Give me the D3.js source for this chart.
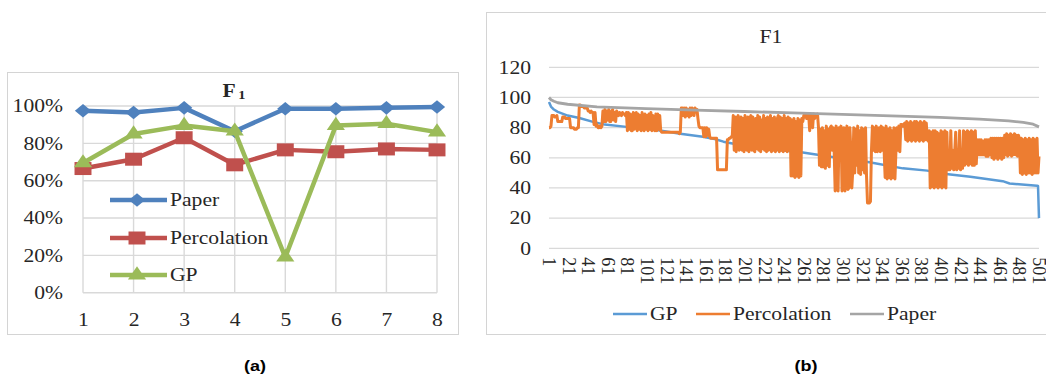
<!DOCTYPE html>
<html>
<head>
<meta charset="utf-8">
<script src="https://cdn.jsdelivr.net/npm/d3@7"></script>
<style>
  body { margin: 0; background: #fff; }
  svg { display: block; }
</style>
</head>
<body>
<svg id="chart" width="1046" height="375"></svg>
<script>
// ---------- Panel (a): F1 for eight runs ----------
const runs = [1, 2, 3, 4, 5, 6, 7, 8];
const paperA = [97.5, 96.5, 99, 86.5, 98.5, 98.5, 99, 99.5];
const percolationA = [66.5, 71.5, 83, 68.5, 76.5, 75.5, 77, 76.5];
const gpA = [69.5, 85, 89.5, 86.5, 19, 89.5, 90.5, 86];
const pctTicks = [0, 20, 40, 60, 80, 100];

// ---------- Panel (b): F1 over 501 instances ----------
const valueTicks = [0, 20, 40, 60, 80, 100, 120];
const indexTicks = [1, 21, 41, 61, 81, 101, 121, 141, 161, 181, 201, 221, 241, 261, 281,
                    301, 321, 341, 361, 381, 401, 421, 441, 461, 481, 501];

// GP and Paper curves: instance number and F1 value
const gpIdx = [1, 3, 6, 10, 20, 32, 45, 58, 80, 111, 135, 158, 170, 179, 196, 230, 260, 295, 328, 362, 387, 397, 431, 464, 471, 499, 500, 501];
const gpVal = [97, 94, 92, 90.5, 88, 86.4, 84, 82, 80.5, 78.5, 76, 74, 72.5, 70.7, 68.5, 65.5, 63.5, 60, 57, 53, 51.5, 50, 47.5, 44.5, 43, 41.5, 41.3, 20];

const paperIdx = [1, 3, 6, 10, 20, 50, 100, 150, 200, 250, 300, 350, 400, 440, 470, 485, 495, 501];
const paperVal = [100, 98.5, 97.5, 96.5, 95.5, 93.8, 92.6, 91.6, 90.7, 89.8, 88.8, 87.8, 86.8, 85.7, 84.5, 83.5, 82.3, 80.5];

// Percolation: one value per instance, 1..501
const percolationB = [
  80,80,81,88,88,88,87,87,88,84,84,84,84,84,87,87,87,86,86,86,
  86,86,80,80,80,80,79,79,79,80,80,95,95,94,94,94,93,93,93,93,
  91,91,90,91,90,90,82,90,81,82,80,80,81,80,81,91,84,92,84,91,
  85,92,84,84,91,92,85,90,84,91,89,88,90,89,88,90,89,89,88,90,
  78,90,79,89,78,78,90,79,89,90,78,89,79,88,78,90,79,78,89,79,
  88,78,89,79,90,78,88,79,78,89,78,89,79,88,78,77,77,77,77,77,
  77,77,77,77,77,77,77,77,77,77,77,77,77,76,77,93,93,88,93,87,
  93,88,92,87,93,88,93,92,88,93,92,92,86,81,80,80,80,80,74,80,
  74,80,75,79,74,73,73,73,73,73,73,73,52,52,52,52,52,52,52,52,
  52,52,72,72,73,73,74,74,88,65,87,64,86,88,65,66,87,65,86,64,
  88,66,65,87,64,86,88,65,87,65,64,86,66,88,65,87,64,85,66,88,
  65,86,64,87,65,66,88,64,86,65,87,64,65,86,88,64,87,65,86,64,
  88,65,86,64,87,65,86,48,85,48,86,47,84,48,86,47,85,48,86,84,
  88,87,89,86,88,88,78,89,87,80,89,86,88,87,89,80,55,79,54,80,
  54,78,53,81,55,79,54,80,81,65,80,64,38,81,65,38,80,64,81,38,
  65,80,38,64,81,39,40,80,65,40,52,80,50,79,55,81,50,78,49,80,
  52,79,50,80,48,30,30,30,31,64,81,65,80,64,81,64,65,80,64,81,
  65,80,64,47,81,46,79,47,80,46,78,47,80,46,64,80,65,81,64,82,
  82,81,82,83,72,84,71,83,72,84,71,83,72,84,71,84,72,83,71,84,
  72,83,71,84,72,83,72,71,78,40,77,41,78,40,78,41,77,40,76,41,
  78,40,77,41,78,40,77,52,64,52,78,53,65,52,64,77,52,65,53,78,
  52,64,53,78,55,77,56,78,55,77,56,78,55,77,55,78,56,72,62,72,
  62,72,62,71,62,72,61,72,61,72,62,73,60,73,59,73,60,73,59,73,
  60,73,59,73,60,75,62,76,61,75,62,76,61,75,62,76,62,75,61,75,
  73,50,73,49,72,50,73,49,72,50,73,50,72,49,73,50,72,50,73,50,
  61
];

// ---------- helpers ----------
const SERIF = "'Liberation Serif', 'Times New Roman', serif";
const SANS = "'Liberation Sans', Arial, sans-serif";
const SX = 1.2;            // text is drawn slightly wide
const svg = d3.select("#chart");

function label(g, x, y, txt, opts = {}) {
  return g.append("text")
    .attr("transform", `translate(${x},${y}) scale(${SX},1)`)
    .attr("text-anchor", opts.anchor || "start")
    .attr("dy", opts.dy || null)
    .attr("font-size", opts.size || 18)
    .attr("font-weight", opts.weight || "normal")
    .attr("font-family", opts.family || SERIF)
    .attr("fill", opts.fill || "#262626")
    .text(txt);
}
function styleAxisText(sel) {
  sel.attr("font-family", SERIF).attr("font-size", 18).attr("fill", "#262626");
}
function widenAxisText(sel) {
  sel.each(function () {
    const t = d3.select(this);
    const x = +t.attr("x") || 0;
    t.attr("x", 0).attr("transform", `translate(${x},0) scale(${SX},1)`);
  });
}

// ================= Panel (a) =================
const gA = svg.append("g");
gA.append("rect").attr("x", 7.5).attr("y", 72.5).attr("width", 451).attr("height", 262)
  .attr("fill", "#fff").attr("stroke", "#d4d4d4");

const xA = d3.scalePoint().domain(runs).range([83, 437]);
const yA = d3.scaleLinear().domain([0, 100]).range([292.7, 106]);

// grid
gA.append("g").selectAll("line").data(pctTicks).join("line")
  .attr("x1", xA(1)).attr("x2", xA(8)).attr("y1", d => yA(d)).attr("y2", d => yA(d))
  .attr("stroke", "#d9d9d9").attr("stroke-width", 1.4);
gA.append("g").selectAll("line").data(runs).join("line")
  .attr("x1", d => xA(d)).attr("x2", d => xA(d)).attr("y1", yA(0)).attr("y2", yA(100))
  .attr("stroke", "#d9d9d9").attr("stroke-width", 1.4);

// axes
const axA_y = gA.append("g").attr("transform", `translate(${xA(1)},0)`)
  .call(d3.axisLeft(yA).tickValues(pctTicks).tickSize(0).tickPadding(20).tickFormat(d => d + "%"));
axA_y.select(".domain").remove();
axA_y.selectAll("text").call(styleAxisText).call(widenAxisText);

const axA_x = gA.append("g").attr("transform", `translate(0,${yA(0)})`)
  .call(d3.axisBottom(xA).tickSize(0).tickPadding(21));
axA_x.select(".domain").remove();
axA_x.selectAll("text").call(styleAxisText).call(widenAxisText);

// title F1
const tA = gA.append("text").attr("transform", `translate(234,97) scale(${SX},1)`)
  .attr("text-anchor", "middle").attr("font-family", SERIF)
  .attr("font-weight", "bold").attr("font-size", 18).attr("fill", "#262626");
tA.append("tspan").text("F");
tA.append("tspan").attr("dx", 2).attr("dy", 2).attr("font-size", 12).text("1");

// series
const seriesA = [
  { name: "Paper", values: paperA, color: "#4f81bd", shape: "diamond" },
  { name: "Percolation", values: percolationA, color: "#c0504d", shape: "square" },
  { name: "GP", values: gpA, color: "#9bbb59", shape: "triangle" }
];
const markerPath = {
  diamond: d3.symbol(d3.symbolSquare, 92)(),
  square: d3.symbol(d3.symbolSquare, 200)(),
  triangle: d3.symbol(d3.symbolTriangle, 100)()
};
const markerTf = {
  diamond: `scale(${SX},1) rotate(45)`,
  square: `scale(${SX},0.92)`,
  triangle: `scale(${SX},1)`
};
const lineA = d3.line().x((d, i) => xA(runs[i])).y(d => yA(d));

seriesA.forEach(s => {
  const g = gA.append("g");
  g.append("path").datum(s.values).attr("d", lineA)
    .attr("fill", "none").attr("stroke", s.color).attr("stroke-width", 4.5)
    .attr("stroke-linejoin", "round");
  g.selectAll("path.m").data(s.values).join("path")
    .attr("d", markerPath[s.shape])
    .attr("transform", (d, i) => `translate(${xA(runs[i])},${yA(d)}) ${markerTf[s.shape]}`)
    .attr("fill", s.color);
});

// legend inside plot
const legYA = [200, 238, 275];
seriesA.forEach((s, i) => {
  const y = legYA[i];
  gA.append("line").attr("x1", 110).attr("x2", 167).attr("y1", y).attr("y2", y)
    .attr("stroke", s.color).attr("stroke-width", 4.5);
  gA.append("path").attr("d", markerPath[s.shape])
    .attr("transform", `translate(137,${y}) ${markerTf[s.shape]}`).attr("fill", s.color);
  label(gA, 170, y, s.name, { dy: "0.35em" });
});

label(gA, 255, 371, "(a)", { anchor: "middle", size: 15, weight: "bold", family: SANS, fill: "#000" });

// ================= Panel (b) =================
const gB = svg.append("g");
gB.append("rect").attr("x", 486.5).attr("y", 12.5).attr("width", 620).attr("height", 322)
  .attr("fill", "#fff").attr("stroke", "#d4d4d4");

const xB = d3.scaleLinear().domain([1, 501]).range([549, 1039]);
const yB = d3.scaleLinear().domain([0, 120]).range([248.3, 67.3]);

gB.append("g").selectAll("line").data(valueTicks).join("line")
  .attr("x1", xB(1)).attr("x2", xB(501)).attr("y1", d => yB(d)).attr("y2", d => yB(d))
  .attr("stroke", "#d9d9d9").attr("stroke-width", 1.2);

const axB_y = gB.append("g").attr("transform", `translate(${xB(1)},0)`)
  .call(d3.axisLeft(yB).tickValues(valueTicks).tickSize(0).tickPadding(18));
axB_y.select(".domain").remove();
axB_y.selectAll("text").call(styleAxisText).call(widenAxisText);

const axB_x = gB.append("g").attr("transform", `translate(0,${yB(0)})`)
  .call(d3.axisBottom(xB).tickValues(indexTicks).tickSize(0).tickFormat(d3.format("d")));
axB_x.select(".domain").remove();
axB_x.selectAll("text").call(styleAxisText)
  .attr("x", 0).attr("y", 0).attr("dy", "0.33em")
  .attr("text-anchor", "start")
  .attr("transform", `translate(0,9) scale(1.1,1) rotate(90)`);

label(gB, 771, 43, "F1", { anchor: "middle", size: 18 });

const lineIdx = d3.line().x(d => xB(d[0])).y(d => yB(d[1]));
const gpPts = gpIdx.map((d, i) => [d, gpVal[i]]);
const paperPts = paperIdx.map((d, i) => [d, paperVal[i]]);
const percPts = percolationB.map((v, i) => [i + 1, v]);

gB.append("path").datum(gpPts).attr("d", lineIdx)
  .attr("fill", "none").attr("stroke", "#5b9bd5").attr("stroke-width", 2.5).attr("stroke-linejoin", "round");
gB.append("path").datum(percPts).attr("d", lineIdx)
  .attr("fill", "none").attr("stroke", "#ed7d31").attr("stroke-width", 3).attr("stroke-linejoin", "round");
gB.append("path").datum(paperPts).attr("d", lineIdx)
  .attr("fill", "none").attr("stroke", "#a5a5a5").attr("stroke-width", 2.8).attr("stroke-linejoin", "round");

// legend below
const legB = [
  { name: "GP", color: "#5b9bd5", x: 613 },
  { name: "Percolation", color: "#ed7d31", x: 696 },
  { name: "Paper", color: "#a5a5a5", x: 850 }
];
legB.forEach(l => {
  gB.append("line").attr("x1", l.x).attr("x2", l.x + 34).attr("y1", 314).attr("y2", 314)
    .attr("stroke", l.color).attr("stroke-width", 2.5);
  label(gB, l.x + 37, 314, l.name, { dy: "0.35em" });
});

label(gB, 806, 371, "(b)", { anchor: "middle", size: 15, weight: "bold", family: SANS, fill: "#000" });
</script>
</body>
</html>
